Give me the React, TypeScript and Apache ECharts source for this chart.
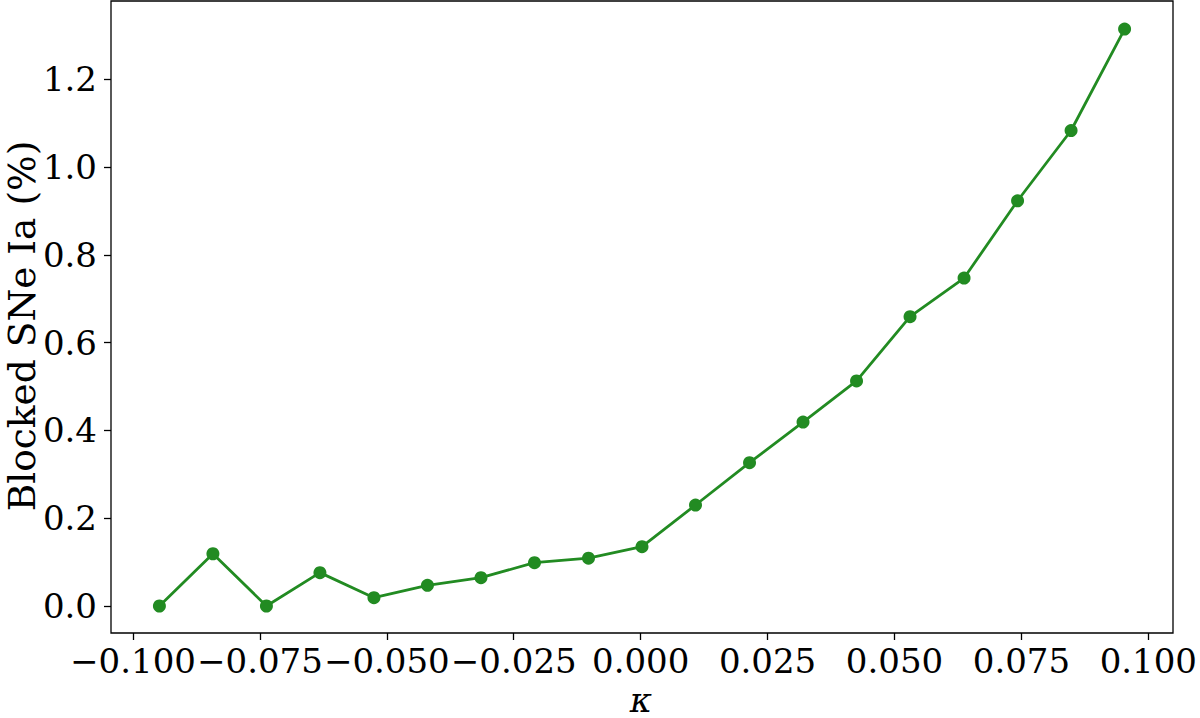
import React, { useEffect, useRef } from "react";
import * as echarts from "echarts";

const kappa = [
  -0.0947, -0.0842, -0.0737, -0.0632, -0.0526, -0.0421, -0.0316, -0.0211, -0.0105,
  0.0, 0.0105, 0.0211, 0.0316, 0.0421, 0.0526, 0.0632, 0.0737, 0.0842, 0.0947,
];
const blocked = [
  0.0, 0.119, 0.0, 0.076, 0.019, 0.047, 0.0645, 0.0987, 0.109,
  0.135, 0.23, 0.3265, 0.419, 0.5126, 0.659, 0.747, 0.923, 1.083, 1.314,
];
const xTickMin = -0.1;
const xTickMax = 0.1;
const xTickStep = 0.025;
const yTickMin = 0;
const yTickMax = 1.2;
const yTickStep = 0.2;
const yTitle = "Blocked SNe Ia (%)";
const xTitle = "κ";

const FONT = "DejaVu Serif";
const GREEN = "#228B22";

function fmt(v: number, d: number) {
  if (Math.abs(v) < 1e-9) v = 0;
  return v.toFixed(d).replace("-", "\u2212");
}

export default function App() {
  const ref = useRef<HTMLDivElement>(null);
  useEffect(() => {
    document.body.style.margin = "0";
    const chart = echarts.init(ref.current!, null, { renderer: "svg" });
    const hidden = {
      axisLine: { show: false },
      axisTick: { show: false },
      axisLabel: { show: false },
      splitLine: { show: false },
    };
    chart.setOption({
      animation: false,
      backgroundColor: "#ffffff",
      grid: [
        { left: 111, right: 27, top: 1, bottom: 85, show: true, borderColor: "#000", borderWidth: 1.3, backgroundColor: "transparent" },
        { left: 133, right: 48, top: 1, bottom: 85 },
        { left: 111, right: 27, top: 79.3, bottom: 112 },
      ],
      xAxis: [
        { type: "value", gridIndex: 0, min: -0.1042, max: 0.1042, ...hidden },
        {
          type: "value", gridIndex: 1, min: xTickMin, max: xTickMax, interval: xTickStep,
          position: "bottom",
          axisLine: { show: false },
          axisTick: { show: true, length: 7, lineStyle: { color: "#000", width: 1.3 } },
          splitLine: { show: false },
          axisLabel: {
            show: true, margin: 11, color: "#000", fontFamily: FONT, fontSize: 34,
            formatter: (v: number) => fmt(v, 3),
          },
        },
        { type: "value", gridIndex: 2, ...hidden },
      ],
      yAxis: [
        { type: "value", gridIndex: 0, min: -0.0615, max: 1.378, ...hidden },
        { type: "value", gridIndex: 1, ...hidden },
        {
          type: "value", gridIndex: 2, min: yTickMin, max: yTickMax, interval: yTickStep,
          position: "left",
          axisLine: { show: false },
          axisTick: { show: true, length: 7, lineStyle: { color: "#000", width: 1.3 } },
          splitLine: { show: false },
          axisLabel: {
            show: true, margin: 14, color: "#000", fontFamily: FONT, fontSize: 34,
            formatter: (v: number) => fmt(v, 1),
          },
        },
      ],
      graphic: [
        {
          type: "text", x: 22, y: 326, rotation: Math.PI / 2,
          style: { text: yTitle, fontFamily: FONT, fontSize: 37.5, fill: "#000", align: "center", verticalAlign: "middle" },
        },
        {
          type: "text", x: 641, y: 700,
          style: { text: xTitle, fontFamily: FONT, fontSize: 34, fontStyle: "italic", fill: "#000", align: "center", verticalAlign: "middle" },
        },
      ],
      series: [
        {
          type: "line", xAxisIndex: 0, yAxisIndex: 0,
          data: kappa.map((k, i) => [k, blocked[i]]),
          symbol: "circle", symbolSize: 13,
          itemStyle: { color: GREEN },
          lineStyle: { color: GREEN, width: 2.8 },
          z: 3,
        },
      ],
    });
    return () => chart.dispose();
  }, []);
  return <div ref={ref} style={{ width: 1200, height: 718 }} />;
}
